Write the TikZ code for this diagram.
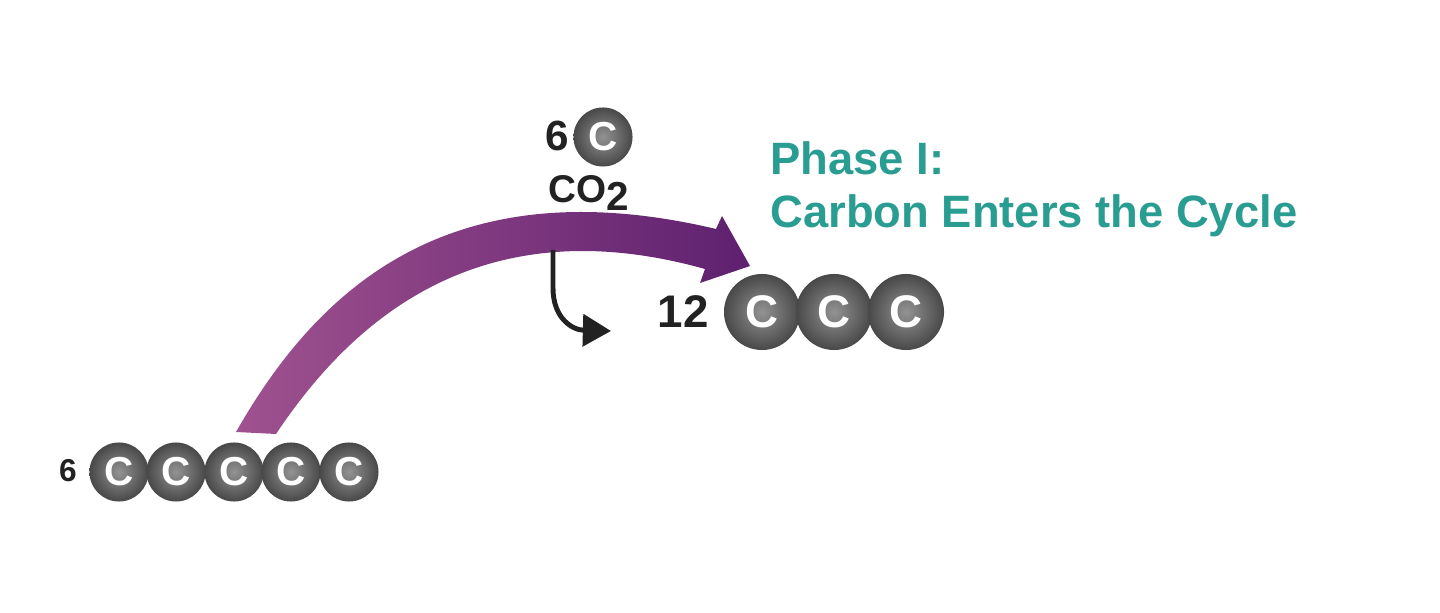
\documentclass[tikz,border=0pt]{standalone}
\usepackage{fontspec}
\setmainfont{Liberation Sans}
\usetikzlibrary{positioning,arrows.meta}

\definecolor{carbongray}{HTML}{555555}
\definecolor{phaseteal}{HTML}{2A9D92}
\definecolor{bandlight}{HTML}{A0528F}
\definecolor{banddark}{HTML}{5E206F}
\definecolor{inkblack}{HTML}{222222}

\tikzset{
  atom/.style={circle, inner sep=0pt, minimum size=0.59cm, inner color=gray!85,
    outer color=carbongray!85!black, text=white, font=\bfseries\fontsize{11.5}{11.5}\selectfont},
  bigatom/.style={atom, minimum size=0.76cm, font=\bfseries\fontsize{13}{13}\selectfont},
  count/.style={text=inkblack, font=\bfseries\fontsize{#1}{#1}\selectfont},
  phase/.style={text=phaseteal, anchor=base west, font=\bfseries\fontsize{12.9}{15}\selectfont},
}

\begin{document}
\begin{tikzpicture}[x=0.01cm, y=-0.01cm]
\useasboundingbox (0,0) rectangle (1440,613);

% purple band with head
\shade[left color=bandlight, right color=banddark]
  (236,432) .. controls (318,288) and (450,166) .. (716,229)
  -- (722,216) -- (750,266) -- (700,283) -- (705,269)
  .. controls (480,206) and (352,320) .. (276,434) -- cycle;

% CO2 joining
\coordinate (split) at (553,250);
\coordinate (lands) at (611,331);
\draw[inkblack, line width=1.4pt, -{Triangle[length=8pt, width=9pt]}]
  (split) -- (553,288) .. controls (553,318) and (572,330) .. (lands);

% six-carbon molecules
\node[count=9] (six) at (68,471) {6};
\foreach \x [count=\i] in {119,176,234,291,349}
  \node[atom] (small\i) at (\x,472) {C};

% carbon dioxide
\node[count=12] (co2count) at (557,136) {6};
\node[atom] (co2atom) at (603,137) {C};
\node[count=11, anchor=north] (co2) at (589,163) {CO\raisebox{-0.4ex}{\fontsize{11.5}{11.5}\selectfont 2}};

% three-carbon molecules
\node[count=13] (twelve) at (683,312) {12};
\foreach \x [count=\i] in {762,834,906}
  \node[bigatom] (big\i) at (\x,312) {C};

\node[phase] (title) at (758,175) {Phase I:};
\node[phase] (subtitle) at (758,228) {Carbon Enters the Cycle};
\end{tikzpicture}
\end{document}
